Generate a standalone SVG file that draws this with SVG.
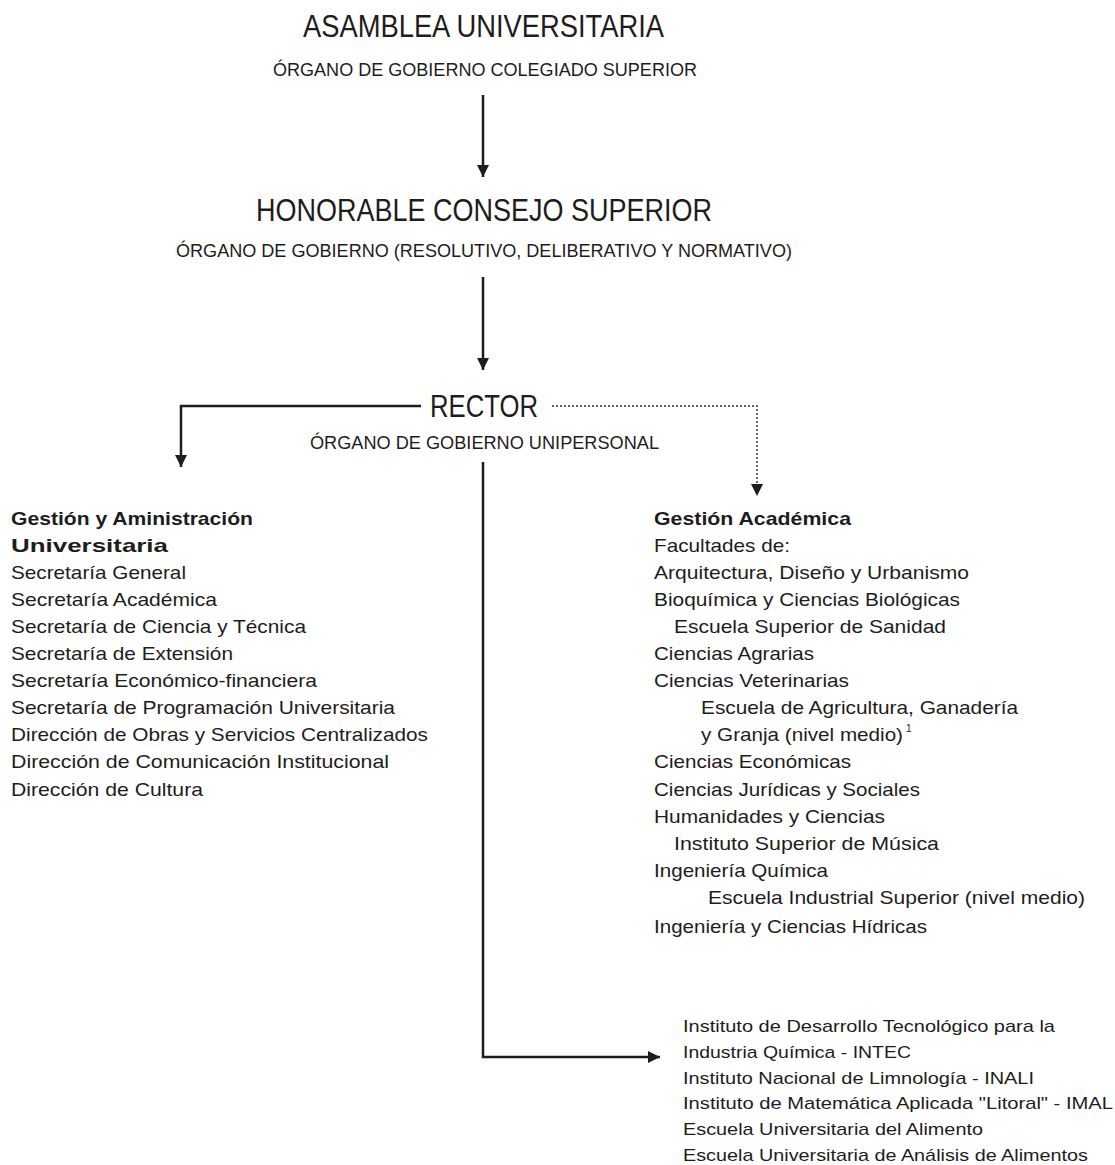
<svg xmlns="http://www.w3.org/2000/svg" width="1115" height="1165" viewBox="0 0 1115 1165">
<defs>
<style>
text{font-family:"Liberation Sans",Arial,sans-serif;fill:#1e1c1c;}
.t{font-size:31px;}
.s{font-size:18px;}
.b{font-size:19px;}
.bb{font-size:19px;font-weight:bold;}
.m{font-size:17px;}
.ln{fill:none;stroke:#1e1c1c;stroke-width:2.5;}
.dt{fill:none;stroke:#333;stroke-width:1.5;stroke-dasharray:2 2;}
</style>
<marker id="ah" viewBox="0 0 12 12" refX="12" refY="6" markerWidth="12" markerHeight="12" markerUnits="userSpaceOnUse" orient="auto">
<path d="M0,0 L12,6 L0,12 z" fill="#1e1c1c"/>
</marker>
</defs>
<rect width="1115" height="1165" fill="#fff"/>
<g id="connectors">
<path class="ln" d="M483,95 V177" marker-end="url(#ah)"/>
<path class="ln" d="M483,277 V370" marker-end="url(#ah)"/>
<path class="ln" d="M421,406 H181 V467" marker-end="url(#ah)"/>
<path class="dt" d="M552,406 H757 V486"/>
<path d="M751,484 L763,484 L757,496 z" fill="#1e1c1c"/>
<path class="ln" d="M483,462 V1057 H660" marker-end="url(#ah)"/>
</g>
<g id="asamblea">
<text class="t" x="303" y="37" textLength="361" lengthAdjust="spacingAndGlyphs">ASAMBLEA UNIVERSITARIA</text>
<text class="s" x="273" y="76" textLength="424" lengthAdjust="spacingAndGlyphs">ÓRGANO DE GOBIERNO COLEGIADO SUPERIOR</text>
</g>
<g id="consejo">
<text class="t" x="256" y="221" textLength="456" lengthAdjust="spacingAndGlyphs">HONORABLE CONSEJO SUPERIOR</text>
<text class="s" x="176" y="257" textLength="616" lengthAdjust="spacingAndGlyphs">ÓRGANO DE GOBIERNO (RESOLUTIVO, DELIBERATIVO Y NORMATIVO)</text>
</g>
<g id="rector">
<text class="t" x="430" y="417" textLength="108" lengthAdjust="spacingAndGlyphs">RECTOR</text>
<text class="s" x="310" y="449" textLength="349" lengthAdjust="spacingAndGlyphs">ÓRGANO DE GOBIERNO UNIPERSONAL</text>
</g>
<g id="gestion-administracion">
<text class="bb" x="11" y="525" textLength="242" lengthAdjust="spacingAndGlyphs">Gestión y Aministración</text>
<text class="bb" x="11" y="552" textLength="157" lengthAdjust="spacingAndGlyphs">Universitaria</text>
<text class="b" x="11" y="579" textLength="175" lengthAdjust="spacingAndGlyphs">Secretaría General</text>
<text class="b" x="11" y="606" textLength="206" lengthAdjust="spacingAndGlyphs">Secretaría Académica</text>
<text class="b" x="11" y="633" textLength="295" lengthAdjust="spacingAndGlyphs">Secretaría de Ciencia y Técnica</text>
<text class="b" x="11" y="660" textLength="222" lengthAdjust="spacingAndGlyphs">Secretaría de Extensión</text>
<text class="b" x="11" y="687" textLength="306" lengthAdjust="spacingAndGlyphs">Secretaría Económico-financiera</text>
<text class="b" x="11" y="714" textLength="384" lengthAdjust="spacingAndGlyphs">Secretaría de Programación Universitaria</text>
<text class="b" x="11" y="741" textLength="417" lengthAdjust="spacingAndGlyphs">Dirección de Obras y Servicios Centralizados</text>
<text class="b" x="11" y="768" textLength="378" lengthAdjust="spacingAndGlyphs">Dirección de Comunicación Institucional</text>
<text class="b" x="11" y="796" textLength="192" lengthAdjust="spacingAndGlyphs">Dirección de Cultura</text>
</g>
<g id="gestion-academica">
<text class="bb" x="654" y="525" textLength="197" lengthAdjust="spacingAndGlyphs">Gestión Académica</text>
<text class="b" x="654" y="552" textLength="136" lengthAdjust="spacingAndGlyphs">Facultades de:</text>
<text class="b" x="654" y="579" textLength="315" lengthAdjust="spacingAndGlyphs">Arquitectura, Diseño y Urbanismo</text>
<text class="b" x="654" y="606" textLength="306" lengthAdjust="spacingAndGlyphs">Bioquímica y Ciencias Biológicas</text>
<text class="b" x="674" y="633" textLength="272" lengthAdjust="spacingAndGlyphs">Escuela Superior de Sanidad</text>
<text class="b" x="654" y="660" textLength="160" lengthAdjust="spacingAndGlyphs">Ciencias Agrarias</text>
<text class="b" x="654" y="687" textLength="195" lengthAdjust="spacingAndGlyphs">Ciencias Veterinarias</text>
<text class="b" x="701" y="714" textLength="317" lengthAdjust="spacingAndGlyphs">Escuela de Agricultura, Ganadería</text>
<text class="b" x="701" y="741"><tspan textLength="202" lengthAdjust="spacingAndGlyphs">y Granja (nivel medio)</tspan><tspan dx="3" dy="-9" font-size="10">1</tspan></text>
<text class="b" x="654" y="768" textLength="197" lengthAdjust="spacingAndGlyphs">Ciencias Económicas</text>
<text class="b" x="654" y="796" textLength="266" lengthAdjust="spacingAndGlyphs">Ciencias Jurídicas y Sociales</text>
<text class="b" x="654" y="823" textLength="231" lengthAdjust="spacingAndGlyphs">Humanidades y Ciencias</text>
<text class="b" x="674" y="850" textLength="265" lengthAdjust="spacingAndGlyphs">Instituto Superior de Música</text>
<text class="b" x="654" y="877" textLength="174" lengthAdjust="spacingAndGlyphs">Ingeniería Química</text>
<text class="b" x="708" y="904" textLength="377" lengthAdjust="spacingAndGlyphs">Escuela Industrial Superior (nivel medio)</text>
<text class="b" x="654" y="933" textLength="273" lengthAdjust="spacingAndGlyphs">Ingeniería y Ciencias Hídricas</text>
</g>
<g id="institutos">
<text class="m" x="683" y="1032" textLength="372" lengthAdjust="spacingAndGlyphs">Instituto de Desarrollo Tecnológico para la</text>
<text class="m" x="683" y="1058" textLength="228" lengthAdjust="spacingAndGlyphs">Industria Química - INTEC</text>
<text class="m" x="683" y="1084" textLength="351" lengthAdjust="spacingAndGlyphs">Instituto Nacional de Limnología - INALI</text>
<text class="m" x="683" y="1109" textLength="430" lengthAdjust="spacingAndGlyphs">Instituto de Matemática Aplicada "Litoral" - IMAL</text>
<text class="m" x="683" y="1135" textLength="300" lengthAdjust="spacingAndGlyphs">Escuela Universitaria del Alimento</text>
<text class="m" x="683" y="1161" textLength="405" lengthAdjust="spacingAndGlyphs">Escuela Universitaria de Análisis de Alimentos</text>
</g>
</svg>
